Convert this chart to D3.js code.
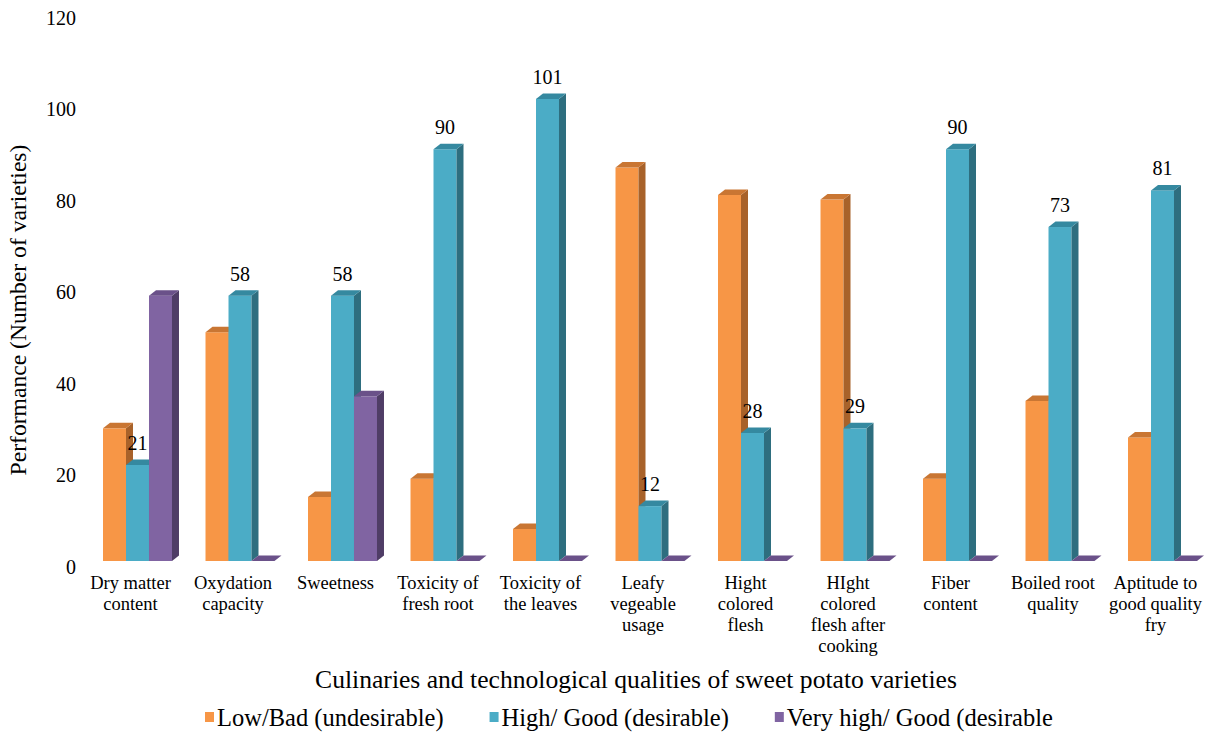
<!DOCTYPE html>
<html>
<head>
<meta charset="utf-8">
<script src="https://cdn.jsdelivr.net/npm/d3@7"></script>
<style>
  body { margin: 0; background: #fff; }
  text { font-family: "Liberation Serif", "Times New Roman", serif; fill: #000; }
</style>
</head>
<body>
<svg id="chart" width="1213" height="732"></svg>
<script>
// Categories (line breaks mark how each tick label wraps)
const categories = [
  "Dry matter\ncontent",
  "Oxydation\ncapacity",
  "Sweetness",
  "Toxicity of\nfresh root",
  "Toxicity of\nthe leaves",
  "Leafy\nvegeable\nusage",
  "Hight\ncolored\nflesh",
  "HIght\ncolored\nflesh after\ncooking",
  "Fiber\ncontent",
  "Boiled root\nquality",
  "Aptitude to\ngood quality\nfry"
];

const seriesNames = ["Low/Bad (undesirable)", "High/ Good (desirable)", "Very high/ Good (desirable"];
const lowBad   = [29, 50, 14, 18, 7, 86, 80, 79, 18, 35, 27];
const highGood = [21, 58, 58, 90, 101, 12, 28, 29, 90, 73, 81];
const veryHigh = [58, 0, 36, 0, 0, 0, 0, 0, 0, 0, 0];
const yTicks = [0, 20, 40, 60, 80, 100, 120];

// front / side / top shades for each series
const palette = [
  { front: "#F79646", side: "#A8622A", top: "#C97633" },
  { front: "#4BACC6", side: "#2E6E7F", top: "#3589A0" },
  { front: "#8064A2", side: "#4F3D66", top: "#6A5189" }
];
const seriesValues = [lowBad, highGood, veryHigh];

const svg = d3.select("#chart");
const depthX = 7, depthY = 5.5;

const x = d3.scaleBand()
  .domain(categories)
  .range([86.25, 1213.75])
  .paddingInner(0.327)
  .paddingOuter(0.1635);

const xs = d3.scaleBand()
  .domain(d3.range(seriesNames.length))
  .range([0, x.bandwidth()]);

const y = d3.scaleLinear().domain([0, 120]).range([561, 12]);

// y tick labels (no axis line or gridlines)
const yAxis = d3.axisLeft(y).tickValues(yTicks).tickSize(0).tickPadding(0);
const gy = svg.append("g").attr("transform", "translate(76,6)").call(yAxis);
gy.select(".domain").remove();
gy.selectAll("text")
  .attr("font-size", 20)
  .attr("font-family", "'Liberation Serif', 'Times New Roman', serif")
  .attr("fill", "#000");

// 3D-style bars
const bars = svg.append("g");
categories.forEach((cat, ci) => {
  seriesValues.forEach((vals, si) => {
    const v = vals[ci];
    const x0 = x(cat) + xs(si);
    const w = xs.bandwidth();
    const yt = y(v), yb = y(0);
    const c = palette[si];
    const g = bars.append("g");
    if (v > 0) {
      g.append("rect")
        .attr("x", x0).attr("y", yt)
        .attr("width", w).attr("height", yb - yt)
        .attr("fill", c.front);
      g.append("polygon")
        .attr("points", [
          [x0 + w, yt], [x0 + w + depthX, yt - depthY],
          [x0 + w + depthX, yb - depthY], [x0 + w, yb]
        ].join(" "))
        .attr("fill", c.side);
    }
    g.append("polygon")
      .attr("points", [
        [x0, yt], [x0 + depthX, yt - depthY],
        [x0 + w + depthX, yt - depthY], [x0 + w, yt]
      ].join(" "))
      .attr("fill", c.top);
  });
});

// value labels on the "High/ Good" series
svg.append("g").selectAll("text")
  .data(categories)
  .join("text")
  .attr("x", (d) => x(d) + xs(1) + xs.bandwidth() / 2)
  .attr("y", (d, i) => y(highGood[i]) - 15)
  .attr("text-anchor", "middle")
  .attr("font-size", 20)
  .text((d, i) => highGood[i]);

// category labels
const catG = svg.append("g");
categories.forEach((cat) => {
  const cx = x(cat) + x.bandwidth() / 2 - 7;
  const t = catG.append("text")
    .attr("text-anchor", "middle")
    .attr("font-size", 18.5);
  cat.split("\n").forEach((line, li) => {
    t.append("tspan")
      .attr("x", cx)
      .attr("y", 589 + li * 21)
      .text(line);
  });
});

// axis titles
svg.append("text")
  .attr("transform", "translate(26,310) rotate(-90)")
  .attr("text-anchor", "middle")
  .attr("font-size", 23.6)
  .text("Performance (Number of varieties)");

svg.append("text")
  .attr("x", 636).attr("y", 688)
  .attr("text-anchor", "middle")
  .attr("font-size", 25.6)
  .text("Culinaries and technological qualities of sweet potato varieties");

// legend
const legend = svg.append("g");
let lx = 205;
seriesNames.forEach((name, i) => {
  legend.append("rect")
    .attr("x", lx).attr("y", 712)
    .attr("width", 9).attr("height", 10)
    .attr("fill", palette[i].front);
  const t = legend.append("text")
    .attr("x", lx + 12).attr("y", 726)
    .attr("font-size", 24.5)
    .text(name);
  lx += 12 + t.node().getComputedTextLength() + 46;
});
</script>
</body>
</html>
